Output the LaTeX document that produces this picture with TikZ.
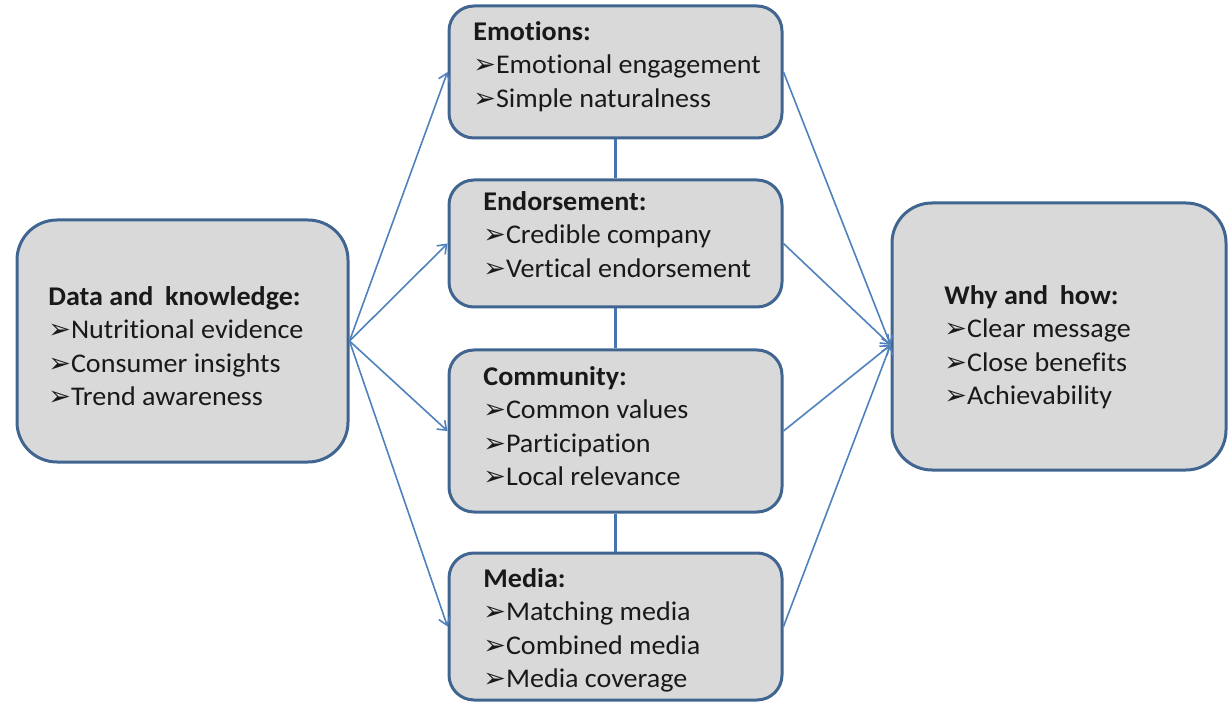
\documentclass[tikz,border=0pt]{standalone}
\usepackage{fontspec}
\setmainfont{Carlito}[Ligatures=NoCommon, FakeStretch=1.04]
\newfontfamily\symfont{DejaVu Sans}
\usetikzlibrary{arrows.meta}

\definecolor{boxfill}{RGB}{217,217,217}
\definecolor{boxline}{RGB}{65,101,145}
\definecolor{linkblue}{RGB}{79,129,189}
\definecolor{ink}{RGB}{25,25,25}

% bullet arrowhead in front of each item
\newcommand\bul{{\symfont\fontsize{13.5pt}{16.75pt}\selectfont ➢}}

\begin{document}
\begin{tikzpicture}[x=0.5pt,y=-0.5pt,
  box/.style={draw=boxline, line width=1.5pt, fill=boxfill, rounded corners=12.5pt, inner sep=0pt},
  bigbox/.style={box, rounded corners=20pt},
  txt/.style={anchor=north west, align=left, inner sep=0pt, text=ink,
              font=\fontsize{13.5pt}{16.75pt}\selectfont},
  link/.style={draw=linkblue, line width=0.8pt},
  vlink/.style={draw=linkblue!90!black, line width=1.05pt},
  arr/.style={link, -{Straight Barb[length=4pt,width=6pt]}}]
\useasboundingbox (0,0) rectangle (1230,705);

% boxes
\node[bigbox, minimum width=165.5pt, minimum height=121pt] (dk) at (182.5,341) {};
\node[box, minimum width=166.5pt, minimum height=66pt] (emo) at (615.5,72) {};
\node[box, minimum width=166.5pt, minimum height=63.5pt] (end) at (615.5,243.5) {};
\node[box, minimum width=166.5pt, minimum height=81pt] (com) at (615.5,431) {};
\node[box, minimum width=166.5pt, minimum height=73.5pt] (med) at (615.5,626.5) {};
\node[bigbox, minimum width=167pt, minimum height=133.5pt] (why) at (1059,336.5) {};

% texts
\node[txt] (dk-t) at (48,281.5) {\strut\textbf{Data and\hspace{0.2em} knowledge:}\\\bul Nutritional evidence\\\bul Consumer insights\\\bul Trend awareness};
\node[txt] (emo-t) at (473,16.5) {\strut\textbf{Emotions:}\\\bul Emotional engagement\\\bul Simple naturalness};
\node[txt] (end-t) at (483,186.5) {\strut\textbf{Endorsement:}\\\bul Credible company\\\bul Vertical endorsement};
\node[txt] (com-t) at (483,361.5) {\strut\textbf{Community:}\\\bul Common values\\\bul Participation\\\bul Local relevance};
\node[txt] (med-t) at (483,563.5) {\strut\textbf{Media:}\\\bul Matching media\\\bul Combined media\\\bul Media coverage};
\node[txt] (why-t) at (944,280.5) {\strut\textbf{Why and\hspace{0.2em} how:}\\\bul Clear message\\\bul Close benefits\\\bul Achievability};

% vertical links between the middle boxes
\draw[vlink] (emo.south) -- (end.north);
\draw[vlink] (end.south) -- (com.north);
\draw[vlink] (com.south) -- (med.north);

% fan-out from the left box
\draw[arr] (dk.east) -- (emo.west);
\draw[arr] (dk.east) -- (end.west);
\draw[arr] (dk.east) -- (com.west);
\draw[arr] (dk.east) -- (med.west);

% fan-in to the right box
\coordinate (why-in) at ([yshift=-4.25pt]why.west);
\draw[arr] (emo.east) -- (why-in);
\draw[arr] (end.east) -- (why-in);
\draw[arr] (com.east) -- (why-in);
\draw[arr] (med.east) -- (why-in);
\end{tikzpicture}
\end{document}
